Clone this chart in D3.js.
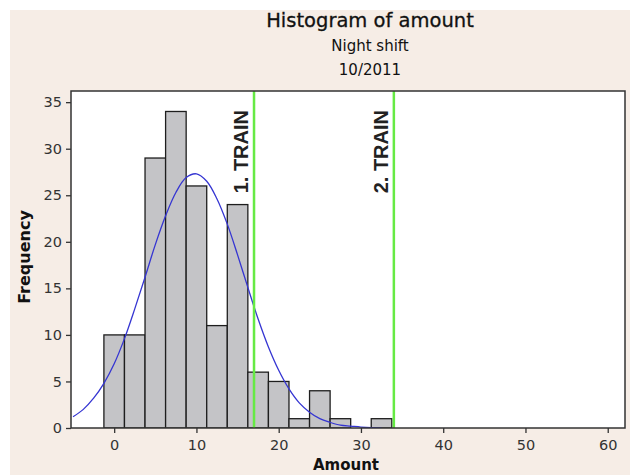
<!DOCTYPE html>
<html>
<head>
<meta charset="utf-8">
<script src="https://cdn.jsdelivr.net/npm/d3@7"></script>
<style>
  html, body { margin: 0; padding: 0; background: #fff; }
  svg { display: block; }
</style>
</head>
<body>
<svg width="630" height="475"></svg>
<script>
// histogram bins (center of each 2.5 wide bin) and counts
const binCenters = [0, 2.5, 5, 7.5, 10, 12.5, 15, 17.5, 20, 22.5, 25, 27.5, 30, 32.5];
const binCounts = [10, 10, 29, 34, 26, 11, 24, 6, 5, 1, 4, 1, 0, 1];
const binWidth = 2.5;

// fitted normal curve
const fitX = [-5, -3.75, -2.5, -1.25, 0, 1.25, 2.5, 3.75, 5, 6.25, 7.5, 8.75, 10, 11.25, 12.5, 13.75,
  15, 16.25, 17.5, 18.75, 20, 21.25, 22.5, 23.75, 25, 26.25, 27.5, 28.75, 30, 31.25, 32.5];
const fitY = [1.2, 2.0, 3.2, 4.8, 6.9, 9.6, 12.8, 16.2, 19.7, 22.8, 25.3, 26.9, 27.3, 26.5, 24.6, 21.9,
  18.6, 15.1, 11.7, 8.7, 6.2, 4.2, 2.7, 1.7, 1.0, 0.6, 0.3, 0.2, 0.1, 0.04, 0.02];

// reference lines
const trainValues = [17, 34];
const trainLabels = ['1. TRAIN', '2. TRAIN'];

const xTicks = [0, 10, 20, 30, 40, 50, 60];
const yTicks = [0, 5, 10, 15, 20, 25, 30, 35];

const svg = d3.select('svg');
const plotLeft = 71, plotRight = 625, plotTop = 91, plotBottom = 428;

const x = d3.scaleLinear().domain([-5.25, 62.1]).range([plotLeft, plotRight]);
const y = d3.scaleLinear().domain([0, 36.2]).range([plotBottom, plotTop]);

// page background
svg.append('rect')
  .attr('x', 10).attr('y', 10)
  .attr('width', 620).attr('height', 465)
  .attr('fill', '#f6ede6');

// titles
const titleX = 370;
svg.append('text')
  .attr('x', titleX).attr('y', 27)
  .attr('text-anchor', 'middle')
  .style('font', '19.5px "DejaVu Sans"')
  .attr('fill', '#111')
  .attr('stroke', '#111').attr('stroke-width', 0.3)
  .text('Histogram of amount');
svg.append('text')
  .attr('x', titleX).attr('y', 51)
  .attr('text-anchor', 'middle')
  .style('font', '15px "DejaVu Sans"')
  .attr('fill', '#111')
  .text('Night shift');
svg.append('text')
  .attr('x', titleX).attr('y', 75)
  .attr('text-anchor', 'middle')
  .style('font', '15px "DejaVu Sans"')
  .attr('fill', '#111')
  .text('10/2011');

// plot area
svg.append('rect')
  .attr('x', plotLeft).attr('y', plotTop)
  .attr('width', plotRight - plotLeft).attr('height', plotBottom - plotTop)
  .attr('fill', '#fff');

svg.append('clipPath').attr('id', 'plot-clip')
  .append('rect')
  .attr('x', plotLeft).attr('y', plotTop)
  .attr('width', plotRight - plotLeft).attr('height', plotBottom - plotTop);

const plot = svg.append('g').attr('clip-path', 'url(#plot-clip)');

const bins = binCenters.map((c, i) => ({ c, n: binCounts[i] })).filter(d => d.n > 0);

plot.append('g').selectAll('rect')
  .data(bins)
  .join('rect')
  .attr('x', d => x(d.c - binWidth / 2))
  .attr('y', d => y(d.n))
  .attr('width', d => x(d.c + binWidth / 2) - x(d.c - binWidth / 2))
  .attr('height', d => y(0) - y(d.n))
  .attr('fill', '#c4c4c7')
  .attr('stroke', '#1e1e1e')
  .attr('stroke-width', 1.3);

plot.append('path')
  .datum(fitX.map((v, i) => [v, fitY[i]]))
  .attr('d', d3.line()
    .x(d => x(d[0]))
    .y(d => y(d[1]))
    .curve(d3.curveCatmullRom))
  .attr('fill', 'none')
  .attr('stroke', '#3535d2')
  .attr('stroke-width', 1.3);

plot.append('g').selectAll('line')
  .data(trainValues)
  .join('line')
  .attr('x1', d => x(d)).attr('x2', d => x(d))
  .attr('y1', plotTop).attr('y2', plotBottom)
  .attr('stroke', '#66ea44')
  .attr('stroke-width', 2.5);

svg.append('g').selectAll('text')
  .data(trainValues)
  .join('text')
  .attr('transform', d => `translate(${x(d) - 6},110) rotate(-90)`)
  .attr('text-anchor', 'end')
  .style('font', 'bold 20px "Liberation Sans"')
  .attr('fill', '#222')
  .text((d, i) => trainLabels[i]);

// frame
svg.append('rect')
  .attr('x', plotLeft).attr('y', plotTop)
  .attr('width', plotRight - plotLeft).attr('height', plotBottom - plotTop)
  .attr('fill', 'none')
  .attr('stroke', '#333')
  .attr('stroke-width', 1.5);

// axes
const yAxis = svg.append('g')
  .attr('transform', `translate(${plotLeft},0)`)
  .call(d3.axisLeft(y).tickValues(yTicks).tickSize(5).tickPadding(4));
const xAxis = svg.append('g')
  .attr('transform', `translate(0,${plotBottom})`)
  .call(d3.axisBottom(x).tickValues(xTicks).tickSize(5).tickPadding(7));

for (const axis of [xAxis, yAxis]) {
  axis.select('.domain').remove();
  axis.selectAll('.tick line').attr('stroke', '#333').attr('stroke-width', 1.3);
  axis.selectAll('.tick text')
    .attr('fill', '#333')
    .style('font', '14.5px "DejaVu Sans"');
}

svg.append('text')
  .attr('x', 346).attr('y', 470)
  .attr('text-anchor', 'middle')
  .style('font', 'bold 15px "DejaVu Sans"')
  .attr('fill', '#111')
  .text('Amount');

svg.append('text')
  .attr('transform', 'translate(30,257) rotate(-90)')
  .attr('text-anchor', 'middle')
  .style('font', 'bold 16px "DejaVu Sans"')
  .attr('fill', '#111')
  .text('Frequency');
</script>
</body>
</html>
